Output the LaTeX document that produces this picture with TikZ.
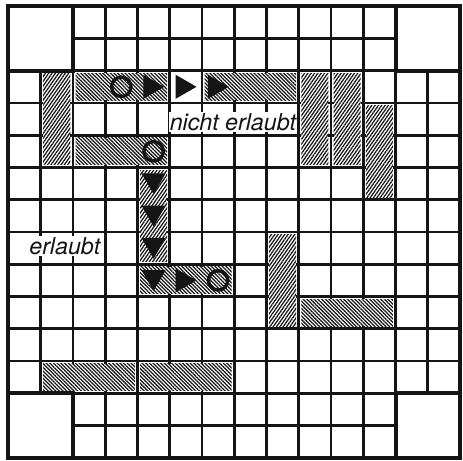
\documentclass[tikz,border=0pt]{standalone}
\usepackage{fontspec}
\usetikzlibrary{patterns.meta,shapes.geometric}
\newfontfamily\boardfont{TeX Gyre Heros}
\definecolor{ink}{HTML}{151515}
\tikzset{
  gridline/.style={ink,line width=2.5pt},
  heavy/.style={ink,line width=3.4pt},
  hbar/.style={preaction={fill=white},pattern={Lines[angle=-45,distance=2.3pt,line width=1.1pt]},pattern color=ink},
  vbar/.style={preaction={fill=white},pattern={Lines[angle=55,distance=2.4pt,line width=1.1pt]},pattern color=ink},
  ring/.style={circle,draw=ink,line width=3pt,minimum size=.6cm,inner sep=0pt},
  tri/.style={regular polygon,regular polygon sides=3,fill=ink,minimum size=.86cm,inner sep=0pt},
  rtri/.style={tri,shape border rotate=-90},
  dtri/.style={tri,shape border rotate=180},
  lbl/.style={fill=white,inner sep=1pt,font=\boardfont\itshape\fontsize{20.5}{23}\selectfont,text=ink},
}
\begin{document}
\begin{tikzpicture}[x=1cm,y=-1cm]
  \useasboundingbox (-0.26,-0.19) rectangle (14.09,14.09);
  % grid
  \foreach \k in {2,...,12}{
    \draw[gridline] (\k,0) -- (\k,14);
    \draw[gridline] (0,\k) -- (14,\k);
  }
  \foreach \k in {1,13}{
    \draw[gridline] (\k,2) -- (\k,12);
    \draw[gridline] (2,\k) -- (12,\k);
  }
  % corner squares and frame
  \foreach \c/\r in {0/0,12/0,0/12,12/12}
    \draw[heavy,fill=white] (\c,\r) rectangle ++(2,2);
  \draw[heavy] (0,0) rectangle (14,14);
  % bars
  \foreach \c/\r in {2/2,6/2,2/4,4/8,9/9,1/11,4/11}
    \path[hbar] (\c+0.08,\r+0.08) rectangle (\c+2.92,\r+0.92);
  \foreach \c/\r in {1/2,4/5,9/2,10/2,11/3,8/7}
    \path[vbar] (\c+0.08,\r+0.08) rectangle (\c+0.92,\r+2.92);
  % moves
  \node[ring] (o1) at (3.5,2.5) {};
  \node[rtri] (r1) at (4.4,2.5) {};
  \node[rtri] (r2) at (5.4,2.5) {};
  \node[rtri] (r3) at (6.4,2.5) {};
  \node[ring] (o2) at (4.5,4.5) {};
  \node[dtri] (d1) at (4.5,5.4) {};
  \node[dtri] (d2) at (4.5,6.4) {};
  \node[dtri] (d3) at (4.5,7.4) {};
  \node[dtri] (d4) at (4.5,8.4) {};
  \node[rtri] (r4) at (5.4,8.5) {};
  \node[ring] (o3) at (6.5,8.5) {};
  % labels
  \node[lbl,anchor=base] (no) at (6.96,3.85) {nicht erlaubt};
  \node[lbl,anchor=base] (yes) at (1.75,7.70) {erlaubt};
\end{tikzpicture}
\end{document}
